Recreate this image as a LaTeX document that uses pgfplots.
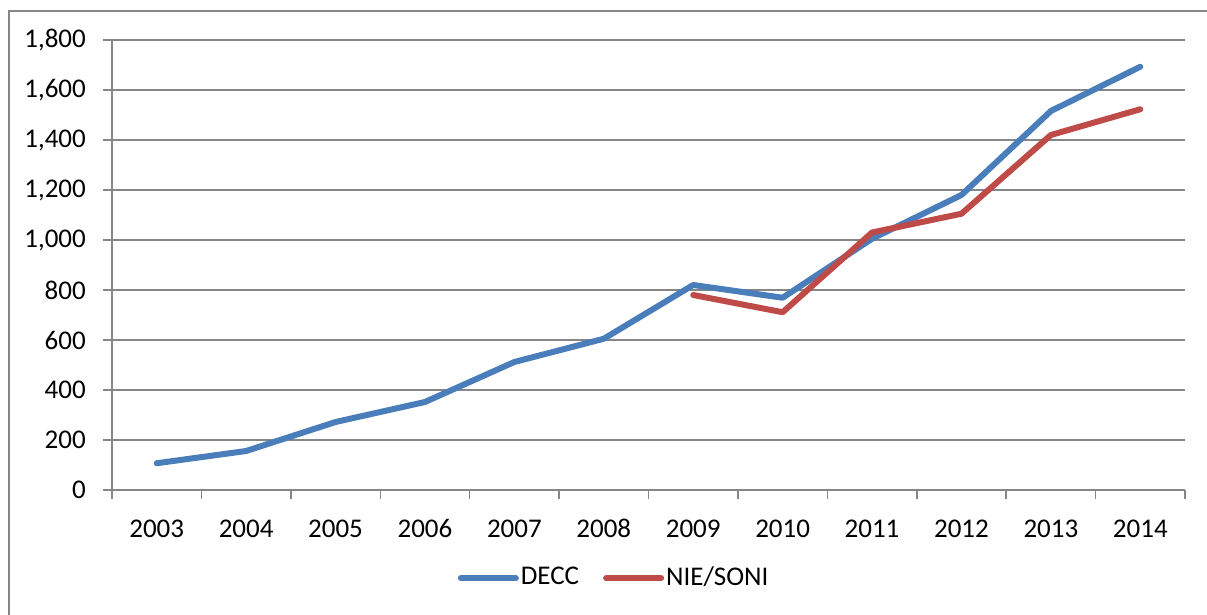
\documentclass[border=0pt]{standalone}
\usepackage{pgfplots}
\pgfplotsset{compat=1.18}
\usepackage{fontspec}
\setmainfont{Carlito}
\definecolor{bl}{HTML}{4A7EBB}
\definecolor{rd}{HTML}{BE4B48}
\definecolor{gr}{HTML}{868686}
\begin{document}
\fontsize{27}{32}\selectfont
\begin{tikzpicture}[x=1pt,y=1pt]
\useasboundingbox (0,0) rectangle (1207,615);
\draw[gr, line width=2pt] (9,-2) -- (9,604) -- (1209,604);
\begin{axis}[
  at={(112pt,125pt)}, anchor=south west,
  scale only axis, width=1073pt, height=450pt,
  xmin=-0.5, xmax=11.5, ymin=0, ymax=1800,
  axis x line=bottom, axis y line=left,
  axis line style={gr, line width=1.5pt, -},
  xtick={0,...,11},
  xticklabels={2003,2004,2005,2006,2007,2008,2009,2010,2011,2012,2013,2014},
  major x tick style={draw=none},
  minor xtick={-0.5,0.5,...,11.5},
  minor x tick style={gr, line width=1.5pt},
  minor tick length=9pt,
  ytick={0,200,...,1800},
  major tick length=9pt,
  tick align=outside,
  y tick style={gr, line width=1.5pt},
  ymajorgrids, grid style={gr, line width=1.5pt},
  /pgf/number format/1000 sep={,},
  /pgf/number format/assume math mode=true,
  ticklabel style={font=\fontsize{27}{32}\selectfont},
  yticklabel style={xshift=-8pt},
  xticklabel style={yshift=-11pt, text height=18pt, text depth=0pt},
  legend style={at={(0.468,-0.196)}, anchor=center, draw=none, fill=none,
    legend columns=2, font=\fontsize{27}{32}\selectfont,
    /tikz/every even column/.append style={column sep=22pt}},
  legend image code/.code={\draw[#1, line cap=round] (0pt,0pt) -- (55pt,0pt);},
  clip=false,
]
\addplot[bl, line width=6pt, line cap=round, line join=round] coordinates {
(0,107) (1,156) (2,272) (3,352) (4,512) (5,605) (6,820) (7,769) (8,1005) (9,1180) (10,1516) (11,1693)};
\addlegendentry{DECC}
\addplot[rd, line width=6pt, line cap=round, line join=round] coordinates {
(6,780) (7,711) (8,1030) (9,1105) (10,1420) (11,1523)};
\addlegendentry{NIE/SONI}
\end{axis}
\end{tikzpicture}
\end{document}
